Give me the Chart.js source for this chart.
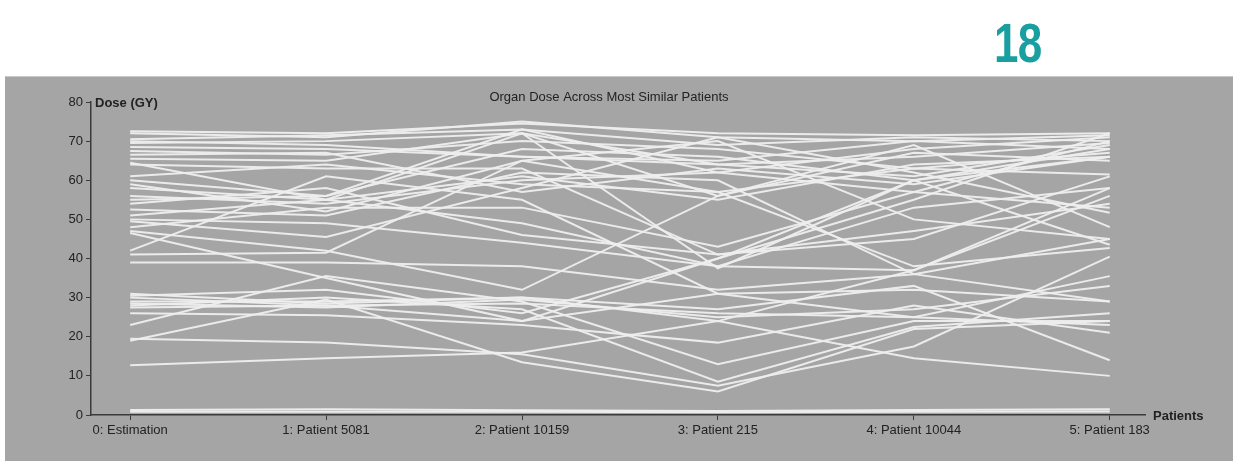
<!DOCTYPE html>
<html>
<head>
<meta charset="utf-8">
<script src="https://cdn.jsdelivr.net/npm/chart.js@4"></script>
<style>
  html, body { margin: 0; padding: 0; background: #fff; }
  body { width: 1233px; height: 461px; position: relative; overflow: hidden; font-family: "Liberation Sans", Arial, sans-serif; }
  #panel { position: absolute; left: 5px; top: 76px; right: 0; bottom: 0; background: #a5a5a5; border-top: 1px solid #c8c8c8; }
  #num { position: absolute; left: 994px; top: 11px; font: bold 55px "Liberation Sans", Arial, sans-serif; color: #1a9fa0; transform: scaleX(0.8); transform-origin: left top; letter-spacing: -1px; }
  #wrap { position: absolute; left: 0; top: 0; width: 1233px; height: 461px; }
</style>
</head>
<body>
<div id="panel"></div>
<div id="num">18</div>
<div id="wrap"><canvas id="c" width="1233" height="461"></canvas></div>
<script>
// categories along the x axis
const patients = ['0: Estimation', '1: Patient 5081', '2: Patient 10159', '3: Patient 215', '4: Patient 10044', '5: Patient 183'];
const yTicks = [0, 10, 20, 30, 40, 50, 60, 70, 80];

// organ dose per organ (Gy), one array per line
const organ01 = [72.5, 72, 74.5, 72, 71.5, 72];
const organ02 = [72, 71, 75, 71, 70, 71.5];
const organ03 = [70.5, 71.5, 73, 69, 71, 70];
const organ04 = [69.5, 70, 72, 64, 61, 69];
const organ05 = [68.5, 68, 66, 65, 70, 68];
const organ06 = [67.5, 66.5, 70, 68, 63, 67];
const organ07 = [66.5, 67, 57, 63, 59, 66];
const organ08 = [65.5, 65, 72, 56, 67, 65];
const organ09 = [64.5, 55, 49, 38, 53, 58];
const organ10 = [61, 64, 59, 57, 63, 61.5];
const organ11 = [60, 56, 73, 62, 57, 53];
const organ12 = [59, 52, 65, 70, 50, 45];
const organ13 = [58, 55, 61, 55, 64, 66];
const organ14 = [55, 56, 68, 66, 60, 43.5];
const organ15 = [54, 58, 46, 41, 47, 54];
const organ16 = [52.5, 51, 62, 60, 36, 29];
const organ17 = [51, 55, 72, 37.5, 60, 68];
const organ18 = [49.5, 45.5, 58, 71, 62, 51.7];
const organ19 = [48, 53, 53, 43, 57, 70];
const organ20 = [47, 42, 32, 56, 69, 48];
const organ21 = [46.5, 35, 24, 40, 55, 72];
const organ22 = [42, 61, 55, 31, 25, 35.5];
const organ23 = [41, 41.5, 65, 57, 38, 42.7];
const organ24 = [39, 39, 38, 32, 36, 45];
const organ25 = [31, 28.5, 30, 24, 37, 56];
const organ26 = [30.5, 32, 26, 40, 60, 66];
const organ27 = [28.5, 27.5, 29.5, 25, 27, 33];
const organ28 = [28, 30, 27, 8.5, 22.5, 26];
const organ29 = [26, 25.5, 23, 18.5, 28, 21];
const organ30 = [23, 35.5, 29, 13, 24, 24];
const organ31 = [19.5, 18.5, 15.5, 7.5, 17.5, 40.5];
const organ32 = [19, 29.5, 13.5, 6, 22, 24];
const organ33 = [12.7, 14.5, 16, 24, 14.5, 10];
const organ34 = [1.3, 1.5, 1.2, 1, 1.3, 1.5];
const organ35 = [0.8, 0.8, 0.8, 0.7, 0.8, 0.9];
const organ36 = [29, 29, 30, 27, 33, 14];
const organ37 = [64, 63, 63, 41, 45, 61];
const organ38 = [30, 28, 28.5, 26, 25, 23];
const organ39 = [27.5, 28, 24, 31, 32, 29];
const organ40 = [70, 69, 66, 64, 66, 69.5];
const organ41 = [56, 54, 60, 62, 68, 71];
const organ42 = [50, 49, 44, 38, 37, 58];

const organs = [organ01, organ02, organ03, organ04, organ05, organ06, organ07, organ08, organ09, organ10,
  organ11, organ12, organ13, organ14, organ15, organ16, organ17, organ18, organ19, organ20,
  organ21, organ22, organ23, organ24, organ25, organ26, organ27, organ28, organ29, organ30,
  organ31, organ32, organ33, organ34, organ35, organ36, organ37, organ38, organ39, organ40,
  organ41, organ42];

const AXIS = '#3a3a3a';
const TXT = '#222';
const FONT = '"Liberation Sans", Arial, sans-serif';

const datasets = organs.map((vals, n) => ({
  label: 'organ ' + (n + 1),
  data: vals.map((v, i) => ({ x: i, y: v })),
  borderColor: 'rgba(238,238,238,0.95)',
  borderWidth: 2,
  pointRadius: 0,
  tension: 0,
  fill: false,
}));

// title + axis names, drawn next to the axes like the original
const labelsPlugin = {
  id: 'labels',
  afterDraw(chart) {
    const { ctx, chartArea, scales } = chart;
    ctx.save();
    ctx.fillStyle = TXT;
    ctx.textBaseline = 'middle';
    ctx.font = '13px ' + FONT;
    ctx.textAlign = 'center';
    ctx.fillText('Organ Dose Across Most Similar Patients', 609, 97);
    ctx.font = 'bold 13px ' + FONT;
    ctx.textAlign = 'left';
    ctx.fillText('Dose (GY)', chartArea.left + 4, scales.y.getPixelForValue(80) + 1);
    ctx.fillText('Patients', chartArea.right + 8, scales.y.getPixelForValue(0) + 1);
    ctx.restore();
  },
};

new Chart(document.getElementById('c'), {
  type: 'line',
  data: { datasets },
  options: {
    responsive: false,
    animation: false,
    layout: { padding: { top: 102, right: 88, bottom: 0, left: 0 } },
    plugins: { legend: { display: false }, tooltip: { enabled: false }, title: { display: false } },
    scales: {
      x: {
        type: 'linear',
        min: -0.2,
        max: 5.18,
        afterBuildTicks: (s) => { s.ticks = patients.map((_, i) => ({ value: i })); },
        afterFit: (s) => { s.height = 46; },
        ticks: {
          autoSkip: false,
          maxRotation: 0,
          padding: 3,
          color: TXT,
          font: { size: 13, family: FONT },
          callback: (v) => patients[v],
        },
        grid: { drawOnChartArea: false, tickLength: 5, color: AXIS, lineWidth: 1 },
        border: { color: AXIS, width: 1.5 },
      },
      y: {
        min: 0,
        max: 80,
        afterBuildTicks: (s) => { s.ticks = yTicks.map(v => ({ value: v })); },
        afterFit: (s) => { s.width = 91; },
        ticks: {
          padding: 3,
          color: TXT,
          font: { size: 13, family: FONT },
        },
        grid: { drawOnChartArea: false, tickLength: 5, color: AXIS, lineWidth: 1 },
        border: { color: AXIS, width: 1.5 },
      },
    },
  },
  plugins: [labelsPlugin],
});
</script>
</body>
</html>
